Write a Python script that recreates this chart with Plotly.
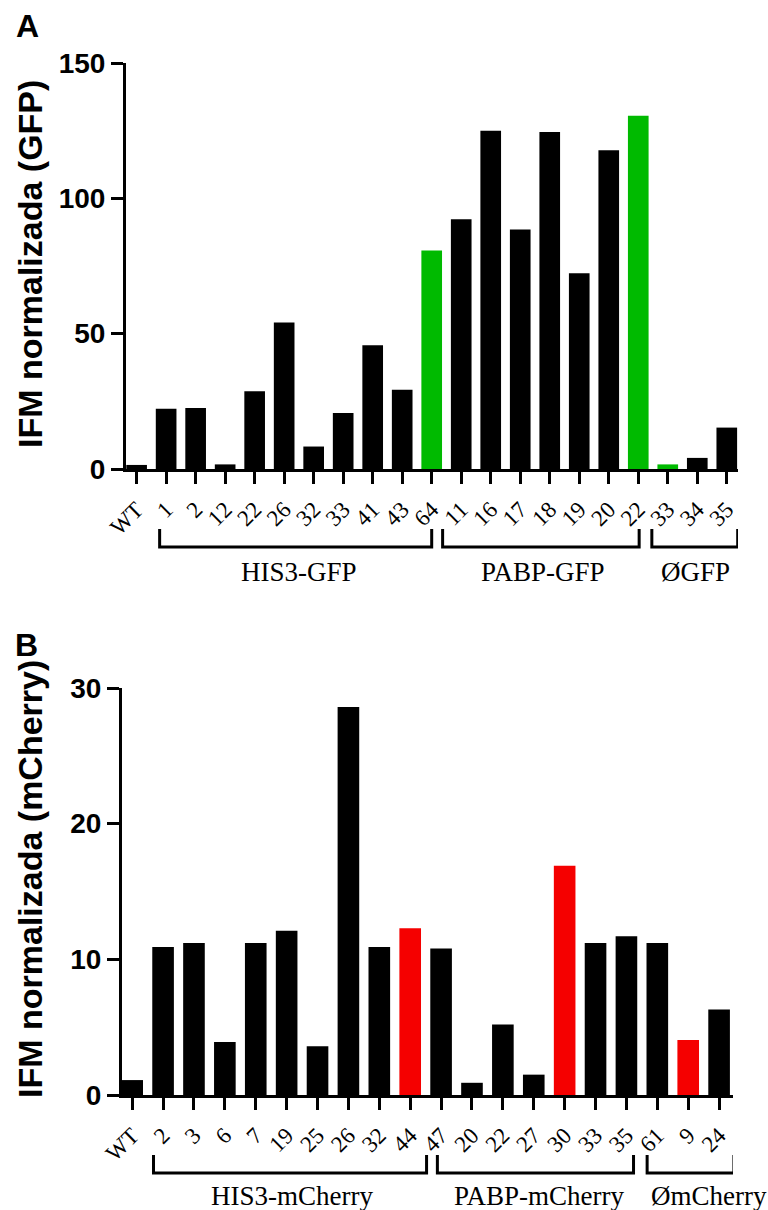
import plotly.graph_objects as go

# ---------------- data ----------------
cats_a = ["WT", "1", "2", "12", "22", "26", "32", "33", "41", "43", "64",
          "11", "16", "17", "18", "19", "20", "22", "33", "34", "35"]
vals_a = [1.5, 22.3, 22.5, 1.7, 28.7, 54.1, 8.3, 20.7, 45.7, 29.3, 80.7,
          92.3, 125.0, 88.5, 124.5, 72.3, 117.8, 130.5, 1.7, 4.1, 15.3]
highlight_a = [10, 17, 18]

cats_b = ["WT", "2", "3", "6", "7", "19", "25", "26", "32", "44", "47",
          "20", "22", "27", "30", "33", "35", "61", "9", "24"]
vals_b = [1.1, 10.9, 11.2, 3.9, 11.2, 12.1, 3.6, 28.6, 10.9, 12.3, 10.8,
          0.9, 5.2, 1.5, 16.9, 11.2, 11.7, 11.2, 4.05, 6.3]
highlight_b = [9, 14, 18]

groups_a = ["HIS3-GFP", "PABP-GFP", "ØGFP"]
groups_b = ["HIS3-mCherry", "PABP-mCherry", "ØmCherry"]

yticks_a = [0, 50, 100, 150]
yticks_b = [0, 10, 20, 30]

# ---------------- layout helpers ----------------
W, H = 768, 1210
GREEN = "#00BA00"
RED = "#F50000"
BLACK = "#000000"

def px_x(p):
    return p / W

def px_y(p):
    return 1 - p / H

colors_a = [GREEN if i in highlight_a else BLACK for i in range(len(vals_a))]
colors_b = [RED if i in highlight_b else BLACK for i in range(len(vals_b))]

fig = go.Figure()
fig.add_trace(go.Bar(x=list(range(len(vals_a))), y=vals_a, marker_color=colors_a,
                     marker_line_width=0, width=0.7, xaxis="x", yaxis="y",
                     showlegend=False, hoverinfo="skip"))
fig.add_trace(go.Bar(x=list(range(len(vals_b))), y=vals_b, marker_color=colors_b,
                     marker_line_width=0, width=0.7, xaxis="x2", yaxis="y2",
                     showlegend=False, hoverinfo="skip"))

serif = "Liberation Serif, Times New Roman, serif"
sans = "Liberation Sans, Arial, sans-serif"

xcommon = dict(showline=True, linecolor="black", linewidth=3, ticks="outside",
               ticklen=12, tickwidth=3, tickcolor="black", tickangle=-45,
               ticklabelstandoff=3,
               tickfont=dict(family=serif, size=23, color="black"),
               showgrid=False, zeroline=False, fixedrange=True, automargin=False)
ycommon = dict(showline=True, linecolor="black", linewidth=3, ticks="outside",
               ticklen=12, tickwidth=3, tickcolor="black",
               tickfont=dict(family=sans, size=28, color="black", weight="bold"),
               showgrid=False, zeroline=False, fixedrange=True, automargin=False)

fig.update_layout(
    template="none",
    width=W, height=H,
    margin=dict(l=0, r=0, t=0, b=0, pad=0, autoexpand=False),
    paper_bgcolor="white", plot_bgcolor="white",
    showlegend=False,
    xaxis=dict(domain=[px_x(126), px_x(738)], range=[-0.36, 20.38],
               tickvals=list(range(len(cats_a))), ticktext=cats_a,
               anchor="y", **xcommon),
    yaxis=dict(domain=[px_y(469), px_y(63)], range=[0, 150], tickvals=yticks_a,
               anchor="x", **ycommon),
    xaxis2=dict(domain=[px_x(122), px_x(733)], range=[-0.33, 19.45],
                tickvals=list(range(len(cats_b))), ticktext=cats_b,
                anchor="y2", **xcommon),
    yaxis2=dict(domain=[px_y(1095), px_y(688)], range=[0, 30], tickvals=yticks_b,
                anchor="x2", **ycommon),
)

# axis titles and panel letters
ann = []
ann.append(dict(text="IFM normalizada (GFP)", x=px_x(30), y=px_y(264), xref="paper",
                yref="paper", textangle=-90, showarrow=False, xanchor="center",
                yanchor="middle", font=dict(family=sans, size=34, color="black",
                                            weight="bold")))
ann.append(dict(text="IFM normalizada (mCherry)", x=px_x(30), y=px_y(879), xref="paper",
                yref="paper", textangle=-90, showarrow=False, xanchor="center",
                yanchor="middle", font=dict(family=sans, size=34, color="black",
                                            weight="bold")))
ann.append(dict(text="A", x=px_x(27), y=px_y(26), xref="paper", yref="paper",
                showarrow=False, xanchor="center", yanchor="middle",
                font=dict(family=sans, size=32, color="black", weight="bold")))
ann.append(dict(text="B", x=px_x(26), y=px_y(645), xref="paper", yref="paper",
                showarrow=False, xanchor="center", yanchor="middle",
                font=dict(family=sans, size=32, color="black", weight="bold")))

# brackets
br_a = [(0.78, 10.0, 5.5), (10.37, 17.03, 13.78), (17.46, 20.37, 18.93)]
br_b = [(0.69, 9.53, 5.18), (9.88, 16.23, 13.19), (16.67, 19.48, 18.67)]

shapes = []
def add_brackets(spans, names, xref, top, bottom, text_y):
    for (x0, x1, xc), name in zip(spans, names):
        shapes.append(dict(type="path", xref=xref, yref="paper",
                           path=f"M {x0},{px_y(top)} L {x0},{px_y(bottom)} "
                                f"L {x1},{px_y(bottom)} L {x1},{px_y(top)}",
                           line=dict(color="black", width=3)))
        ann.append(dict(text=name, x=xc, y=px_y(text_y), xref=xref, yref="paper",
                        showarrow=False, xanchor="center", yanchor="middle",
                        font=dict(family=serif, size=27, color="black")))

add_brackets(br_a, groups_a, "x", 529, 547, 572)
add_brackets(br_b, groups_b, "x2", 1155, 1173, 1196)

fig.update_layout(annotations=ann, shapes=shapes)

fig.write_html("out.html")
